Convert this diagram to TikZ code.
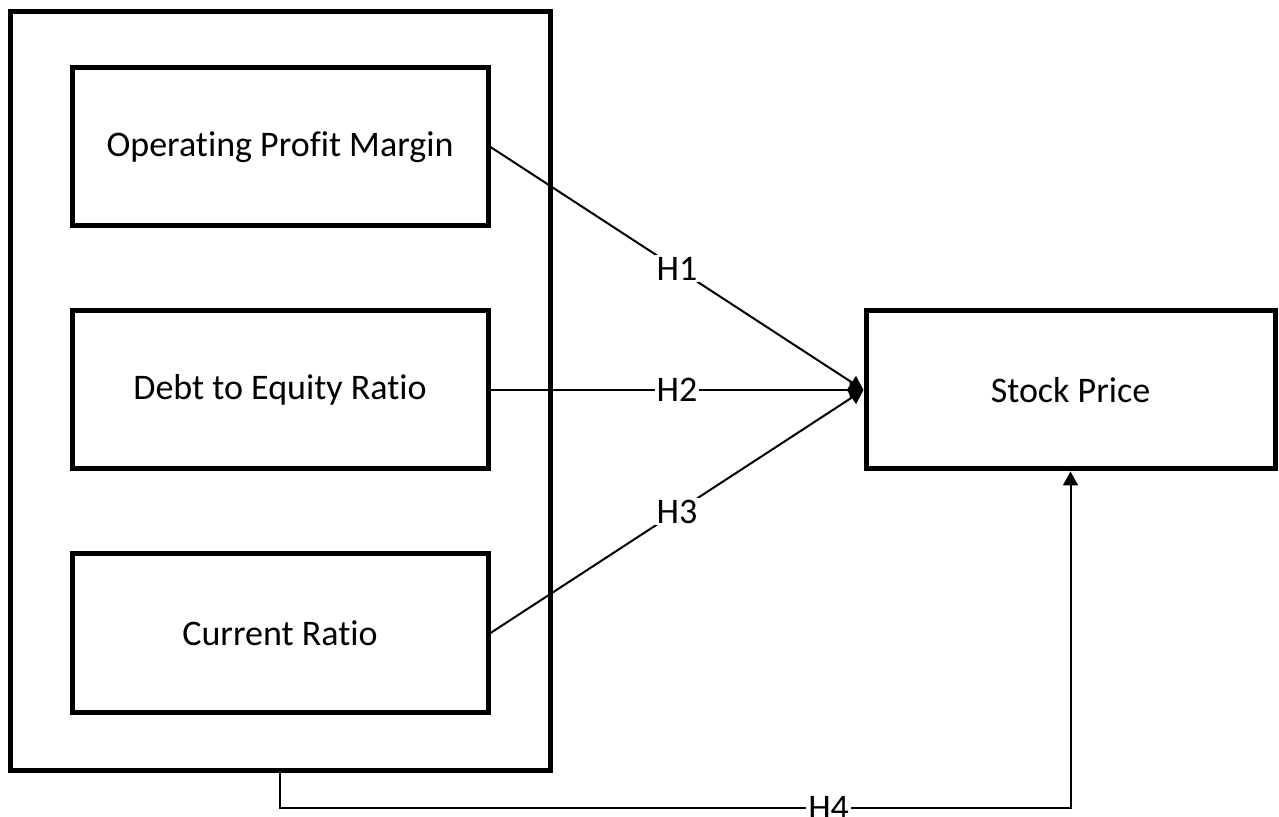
\documentclass[tikz,border=0pt]{standalone}
\usepackage{fontspec}
\setmainfont{Carlito}[Ligatures={NoCommon}]
\usetikzlibrary{positioning,arrows.meta}

\begin{document}
\begin{tikzpicture}[x=0.5pt, y=-0.5pt, node distance={40pt}, font=\fontsize{18}{21}\selectfont,
    box/.style = {draw, line width=2.5pt, minimum width=208pt, minimum height=79pt},
    link/.style = {line width=1pt, -{Triangle[length=7pt,width=7.5pt]}},
    hyp/.style = {fill=white, inner sep=1pt}]
          \useasboundingbox (0,0) rectangle (1279,817);
          % Define nodes
          \node[draw, line width=2.5pt, minimum width=270pt, minimum height=379pt] (group) at (280,391) {};
          \node[box] (opm) at (280,147) {Operating Profit Margin};
          \node[box] (der) [below=of opm] {Debt to Equity Ratio};
          \node[box] (cr) [below=of der] {Current Ratio};
          \node[box, minimum width=204.5pt] (price) at (1070.5,390) {Stock Price};
          % Add edges
          \draw[link] (opm.east) -- node[hyp] {H1} (price.west);
          \draw[link] (der.east) -- node[hyp] {H2} (price.west);
          \draw[link] (cr.east) -- node[hyp] {H3} (price.west);
          \draw[link] (group.south) -- ++(0,35) -| node[hyp, pos=0.347] {H4} (price.south);
        \end{tikzpicture}
\end{document}
